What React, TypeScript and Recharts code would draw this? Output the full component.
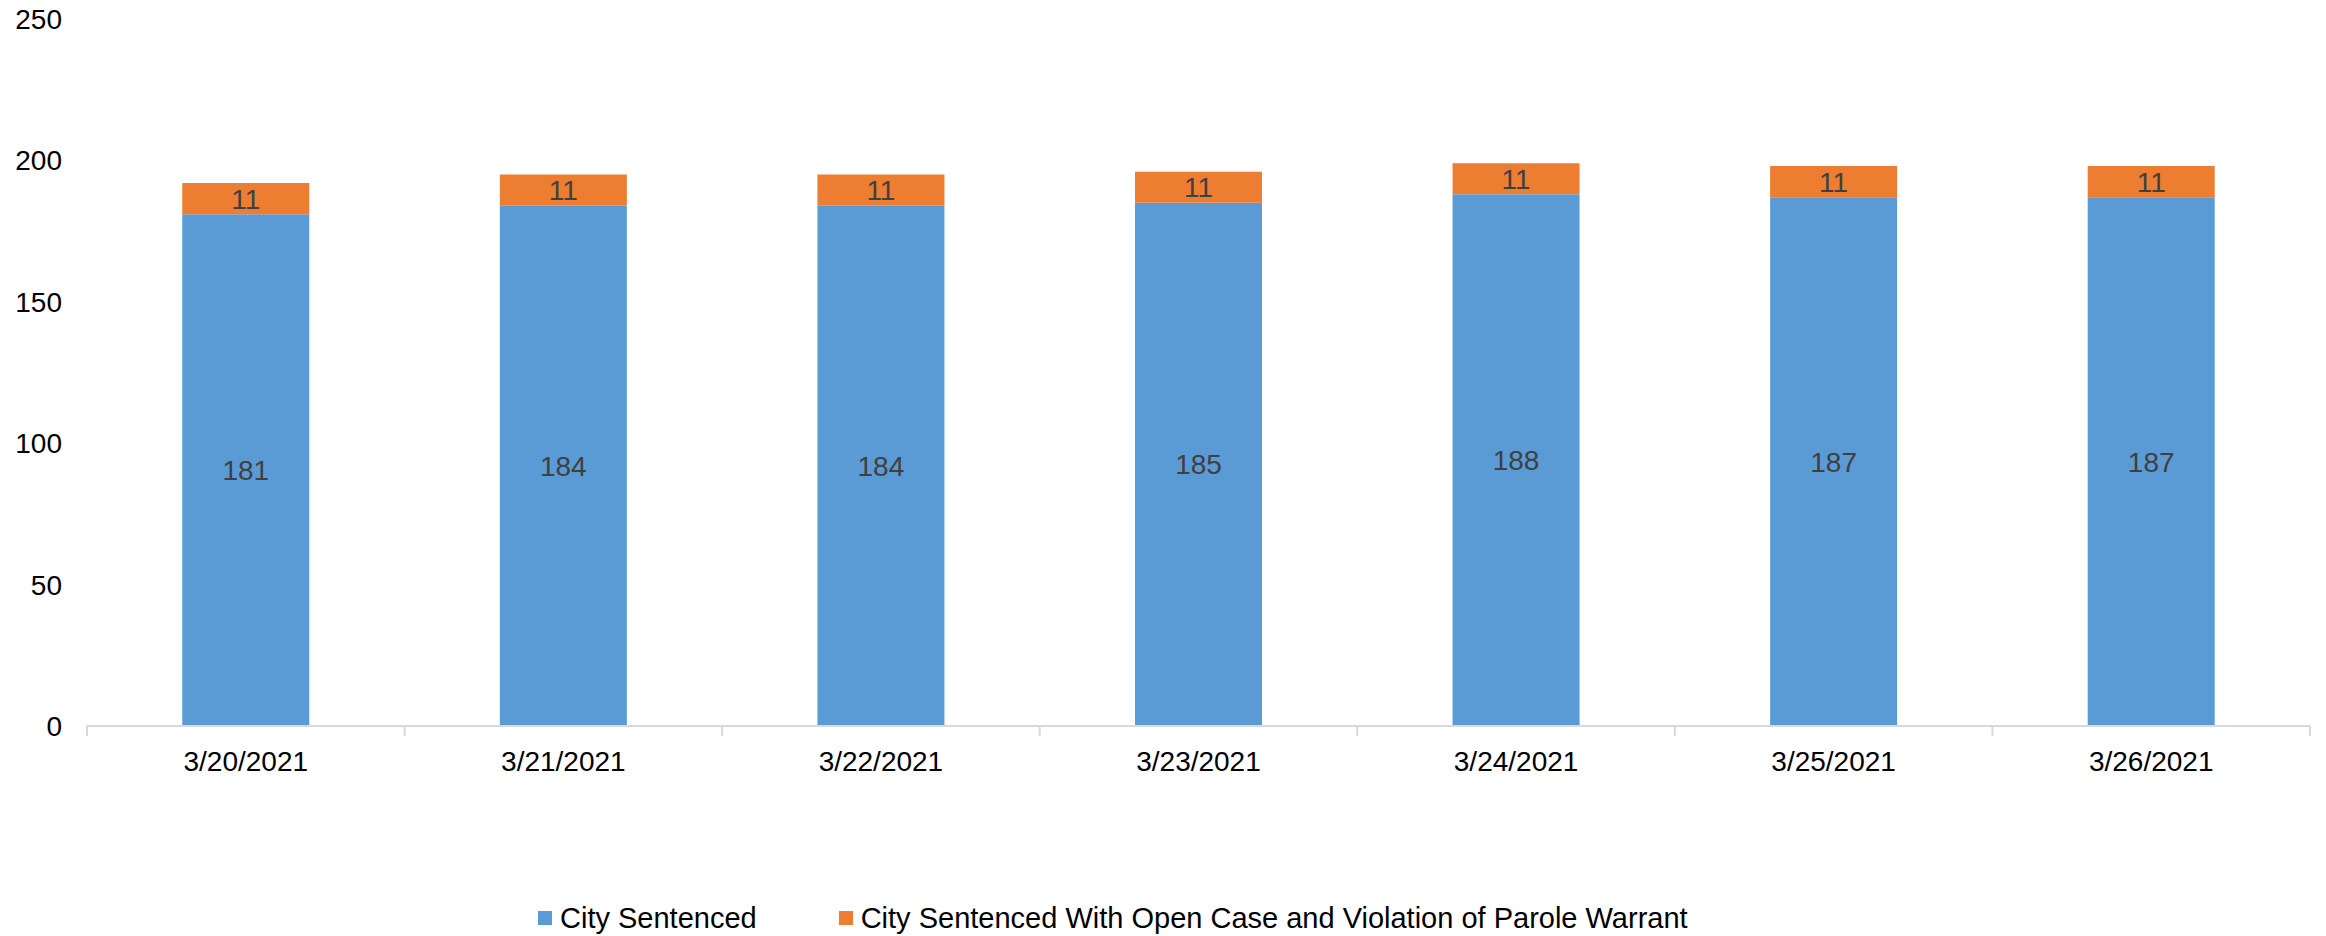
import React from 'react';
import { BarChart, Bar, XAxis, YAxis, Legend, LabelList } from 'recharts';

const categories = ['3/20/2021', '3/21/2021', '3/22/2021', '3/23/2021', '3/24/2021', '3/25/2021', '3/26/2021'];
const citySentenced = [181, 184, 184, 185, 188, 187, 187];
const openCaseVop = [11, 11, 11, 11, 11, 11, 11];
const yTicks = [0, 50, 100, 150, 200, 250];

const seriesNames = ['City Sentenced', 'City Sentenced With Open Case and Violation of Parole Warrant'];
const colors = ['#5B9BD5', '#ED7D31'];

const data = categories.map((c, i) => ({ date: c, a: citySentenced[i], b: openCaseVop[i] }));

const FONT = '"Liberation Sans", Arial, sans-serif';
const TICK_MARGIN = 25;
const AXIS_COLOR = '#d9d9d9';

const CatTick = (props: any) => {
  const { x, y, payload, width, visibleTicksCount, index } = props;
  const half = payload && payload.offset ? payload.offset : width / visibleTicksCount / 2;
  const axisY = y - TICK_MARGIN;
  const last = index === visibleTicksCount - 1;
  return (
    <g>
      <line x1={x - half} x2={x - half} y1={axisY} y2={axisY + 10} stroke={AXIS_COLOR} strokeWidth={2} />
      {last && <line x1={x + half} x2={x + half} y1={axisY} y2={axisY + 10} stroke={AXIS_COLOR} strokeWidth={2} />}
      <text x={x} y={y} dy="0.71em" textAnchor="middle" fill="#000" fontSize={28} fontFamily={FONT}>{payload.value}</text>
    </g>
  );
};

const LegendContent = () => (
  <div style={{ display: 'flex', alignItems: 'center', height: 36, paddingLeft: 538, fontFamily: FONT, fontSize: 29, color: '#000' }}>
    {seriesNames.map((n, i) => (
      <div key={n} style={{ display: 'flex', alignItems: 'center', marginRight: i === 0 ? 82 : 0 }}>
        <span style={{ display: 'inline-block', width: 14, height: 14, background: colors[i], marginRight: 8 }} />
        <span>{n}</span>
      </div>
    ))}
  </div>
);

export default function App() {
  return (
    <div style={{ position: 'absolute', left: 0, top: 0, background: '#fff' }}>
      <BarChart width={2326} height={936} data={data} margin={{ top: 19, right: 16, left: 0, bottom: 0 }} barCategoryGap="30%">
        <XAxis dataKey="date" axisLine={{ stroke: AXIS_COLOR, strokeWidth: 2 }} tickLine={false} tickSize={0} tickMargin={TICK_MARGIN} height={174}
          tick={<CatTick />} interval={0} />
        <YAxis domain={[0, 250]} ticks={yTicks} axisLine={false} tickLine={false} tickSize={0} tickMargin={25} width={87}
          tick={{ fill: '#000', fontSize: 28, fontFamily: FONT }} />
        <Legend verticalAlign="bottom" content={<LegendContent />} />
        <Bar dataKey="a" stackId="s" fill={colors[0]} name={seriesNames[0]} isAnimationActive={false}>
          <LabelList dataKey="a" position="center" fill="#404040" fontSize={28} fontFamily={FONT} />
        </Bar>
        <Bar dataKey="b" stackId="s" fill={colors[1]} name={seriesNames[1]} isAnimationActive={false}>
          <LabelList dataKey="b" position="center" fill="#404040" fontSize={28} fontFamily={FONT} />
        </Bar>
      </BarChart>
    </div>
  );
}
